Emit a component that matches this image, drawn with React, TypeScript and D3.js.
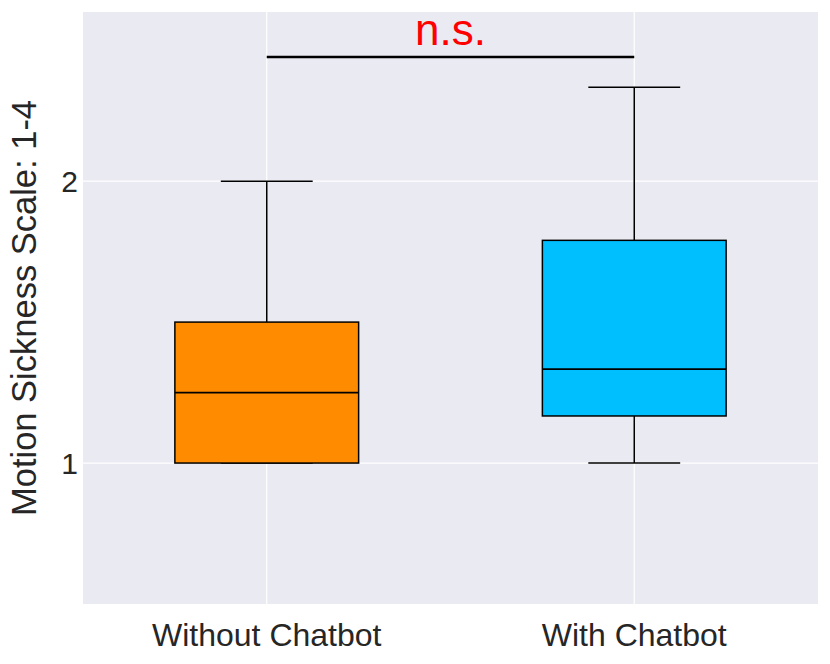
import React from 'react';
import * as d3 from 'd3';

const categories = ['Without Chatbot', 'With Chatbot'];
const whiskerLow = [1, 1];
const q1 = [1, 1.167];
const median = [1.25, 1.333];
const q3 = [1.5, 1.79];
const whiskerHigh = [2, 2.333];
const boxColors = ['#FF8C00', '#00BFFF'];
const yTicks = [1, 2];
const sigLevel = 2.44;
const sigLabel = 'n.s.';

const W = 830;
const H = 664;
const margin = { top: 12, right: 12, bottom: 60, left: 83 };
const font = 'Arial, "Liberation Sans", sans-serif';
const textColor = '#262626';

const App = () => {
  const x = d3.scaleLinear().domain([-0.5, categories.length - 0.5]).range([margin.left, W - margin.right]);
  const y = d3.scaleLinear().domain([0.5, 2.6]).range([H - margin.bottom, margin.top]);
  const boxW = x(0.5) - x(0); // half of the category step
  const capW = boxW / 2;
  const [x0, x1] = x.range();
  const [yb, yt] = y.range();

  return (
    <svg width={W} height={H} style={{ position: 'absolute', left: 0, top: 0 }}>
      <rect x={0} y={0} width={W} height={H} fill="#fff" />
      <rect x={x0} y={yt} width={x1 - x0} height={yb - yt} fill="#EAEAF2" />
      {/* grid */}
      {yTicks.map(t => (
        <line key={'gy' + t} x1={x0} x2={x1} y1={y(t)} y2={y(t)} stroke="#fff" strokeWidth={1.2} />
      ))}
      {categories.map((c, i) => (
        <line key={'gx' + c} x1={x(i)} x2={x(i)} y1={yt} y2={yb} stroke="#fff" strokeWidth={1.2} />
      ))}

      {/* boxes */}
      {categories.map((c, i) => {
        const cx = x(i);
        return (
          <g key={c}>
            <line x1={cx} x2={cx} y1={y(q3[i])} y2={y(whiskerHigh[i])} stroke="#000" strokeWidth={1.5} />
            <line x1={cx} x2={cx} y1={y(q1[i])} y2={y(whiskerLow[i])} stroke="#000" strokeWidth={1.5} />
            <line x1={cx - capW / 2} x2={cx + capW / 2} y1={y(whiskerHigh[i])} y2={y(whiskerHigh[i])} stroke="#000" strokeWidth={1.5} />
            <line x1={cx - capW / 2} x2={cx + capW / 2} y1={y(whiskerLow[i])} y2={y(whiskerLow[i])} stroke="#000" strokeWidth={1.5} />
            <rect
              x={cx - boxW / 2}
              y={y(q3[i])}
              width={boxW}
              height={y(q1[i]) - y(q3[i])}
              fill={boxColors[i]}
              stroke="#000"
              strokeWidth={1.5}
            />
            <line x1={cx - boxW / 2} x2={cx + boxW / 2} y1={y(median[i])} y2={y(median[i])} stroke="#000" strokeWidth={1.8} />
          </g>
        );
      })}

      {/* significance bar */}
      <line x1={x(0)} x2={x(1)} y1={y(sigLevel)} y2={y(sigLevel)} stroke="#000" strokeWidth={2.5} />
      <text
        x={(x(0) + x(1)) / 2}
        y={y(sigLevel) - 12}
        textAnchor="middle"
        fill="red"
        fontSize={44}
        fontFamily={font}
      >
        {sigLabel}
      </text>

      {/* y ticks */}
      {yTicks.map(t => (
        <text key={'ty' + t} x={x0 - 5} y={y(t)} dy="0.36em" textAnchor="end" fill={textColor} fontSize={30} fontFamily={font}>
          {t}
        </text>
      ))}
      {/* x ticks */}
      {categories.map((c, i) => (
        <text key={'tx' + c} x={x(i)} y={646} textAnchor="middle" fill={textColor} fontSize={32} fontFamily={font}>
          {c}
        </text>
      ))}
      <text
        transform={`translate(36,${(yt + yb) / 2}) rotate(-90)`}
        textAnchor="middle"
        fill={textColor}
        fontSize={34.5}
        fontFamily={font}
      >
        Motion Sickness Scale: 1-4
      </text>
    </svg>
  );
};

export default App;
